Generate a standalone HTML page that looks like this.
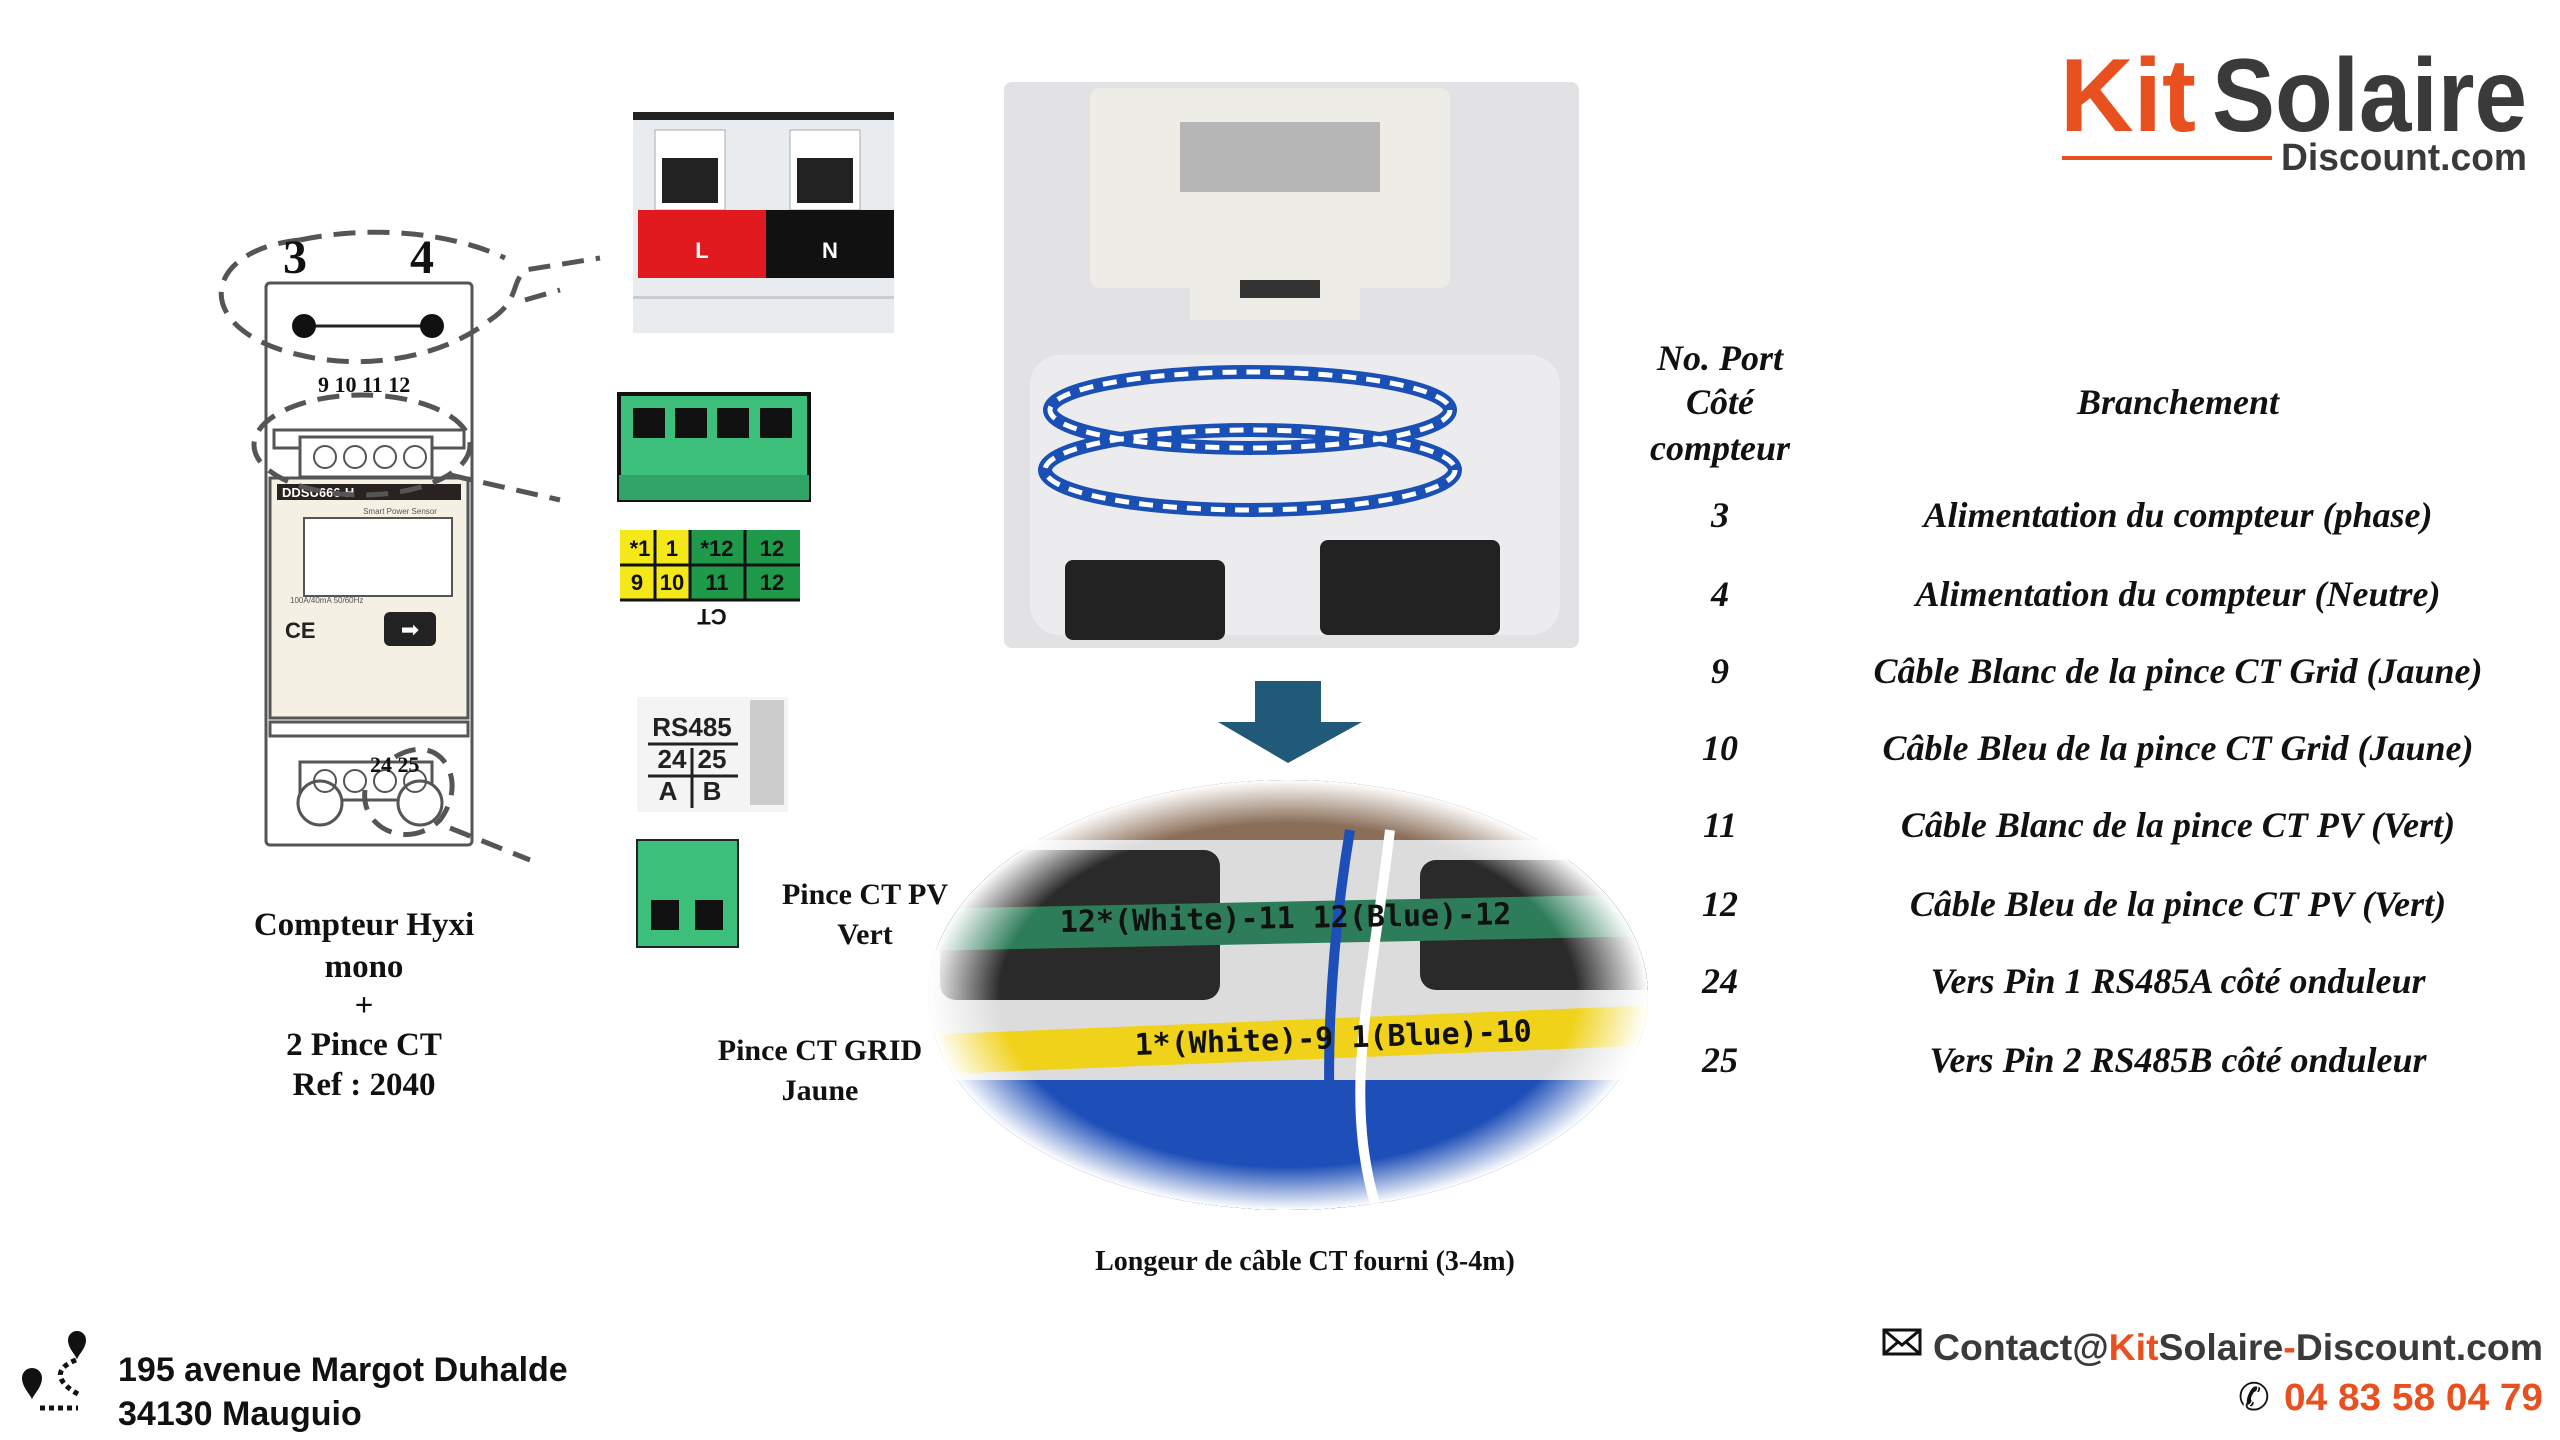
<!DOCTYPE html>
<html><head><meta charset="utf-8"><style>
html,body{margin:0;padding:0;background:#fff}
svg{display:block}
.s{font-family:"Liberation Serif",serif;font-weight:bold}
.si{font-family:"Liberation Serif",serif;font-weight:bold;font-style:italic}
.a{font-family:"Liberation Sans",sans-serif;font-weight:bold}
</style></head><body>
<svg width="2560" height="1440" viewBox="0 0 2560 1440" xmlns="http://www.w3.org/2000/svg">
<defs>
<radialGradient id="eg" cx="50%" cy="50%" r="50%">
<stop offset="0.8" stop-color="#fff" stop-opacity="0"/><stop offset="1" stop-color="#fff" stop-opacity="1"/></radialGradient>
<clipPath id="ec"><ellipse cx="1288" cy="995" rx="360" ry="215"/></clipPath>
</defs>
<rect width="2560" height="1440" fill="#fff"/>

<!-- Logo -->
<text x="2060" y="131" font-family="Liberation Sans" font-weight="bold" font-size="104" fill="#e8501f" textLength="136" lengthAdjust="spacingAndGlyphs">Kit</text>
<text x="2212" y="131" font-family="Liberation Sans" font-weight="bold" font-size="104" fill="#3a3a3a" textLength="315" lengthAdjust="spacingAndGlyphs">Solaire</text>
<rect x="2062" y="156" width="210" height="4" fill="#e8501f"/>
<text x="2281" y="170" class="a" font-size="38" fill="#3a3a3a" textLength="246" lengthAdjust="spacingAndGlyphs">Discount.com</text>

<!-- Table -->
<g class="si" font-size="36" fill="#111" text-anchor="middle">
<text x="1720" y="370">No. Port</text>
<text x="1720" y="414">Côté</text>
<text x="1720" y="460">compteur</text>
<text x="2178" y="414">Branchement</text>
<text x="1720" y="527">3</text><text x="2178" y="527">Alimentation du compteur (phase)</text>
<text x="1720" y="606">4</text><text x="2178" y="606">Alimentation du compteur (Neutre)</text>
<text x="1720" y="683">9</text><text x="2178" y="683">Câble Blanc de la pince CT Grid (Jaune)</text>
<text x="1720" y="760">10</text><text x="2178" y="760">Câble Bleu de la pince CT Grid (Jaune)</text>
<text x="1720" y="837">11</text><text x="2178" y="837">Câble Blanc de la pince CT PV (Vert)</text>
<text x="1720" y="916">12</text><text x="2178" y="916">Câble Bleu de la pince CT PV (Vert)</text>
<text x="1720" y="993">24</text><text x="2178" y="993">Vers Pin 1 RS485A côté onduleur</text>
<text x="1720" y="1072">25</text><text x="2178" y="1072">Vers Pin 2 RS485B côté onduleur</text>
</g>

<!-- Meter drawing -->
<g stroke="#555" stroke-width="3" fill="#fff">
<rect x="266" y="283" width="206" height="562" rx="4"/>
<rect x="274" y="430" width="190" height="18"/>
<rect x="300" y="437" width="132" height="40"/>
<rect x="270" y="478" width="198" height="240" fill="#f4f0e4"/>
<rect x="270" y="722" width="198" height="14"/>
<rect x="300" y="762" width="132" height="38"/>
<circle cx="320" cy="803" r="22"/><circle cx="420" cy="803" r="22"/>
</g>
<g fill="none" stroke="#555" stroke-width="2">
<circle cx="325" cy="457" r="11"/><circle cx="355" cy="457" r="11"/><circle cx="385" cy="457" r="11"/><circle cx="415" cy="457" r="11"/>
<circle cx="325" cy="781" r="11"/><circle cx="355" cy="781" r="11"/><circle cx="385" cy="781" r="11"/><circle cx="415" cy="781" r="11"/>
<rect x="304" y="518" width="148" height="78" fill="#fff"/>
</g>
<rect x="277" y="484" width="184" height="16" fill="#2a2220"/>
<text x="282" y="497" class="a" font-size="13" fill="#fff">DDSU666-H</text>
<text x="400" y="514" font-family="Liberation Sans" font-size="8" fill="#555" text-anchor="middle">Smart Power Sensor</text>
<text x="290" y="603" font-family="Liberation Sans" font-size="8" fill="#555">100A/40mA   50/60Hz</text>
<text x="285" y="638" class="a" font-size="22" fill="#222">CE</text>
<rect x="384" y="612" width="52" height="34" rx="6" fill="#222"/>
<text x="410" y="637" font-size="22" fill="#fff" text-anchor="middle" font-family="DejaVu Sans">➡</text>
<line x1="304" y1="326" x2="432" y2="326" stroke="#222" stroke-width="3"/>
<circle cx="304" cy="326" r="12" fill="#111"/><circle cx="432" cy="326" r="12" fill="#111"/>
<g stroke="#555" stroke-width="5" fill="none" stroke-dasharray="22,12">
<path d="M300,240 C200,250 190,330 300,355 C360,370 440,360 490,320 C520,300 510,285 525,270 L600,258 M525,300 L560,290"/>
<path d="M300,240 C370,225 450,232 505,258"/>
<ellipse cx="362" cy="445" rx="108" ry="50"/>
<path d="M450,475 L560,500"/>
<path d="M395,757 C440,730 470,780 440,820 C410,850 360,830 365,790"/>
<path d="M450,828 L530,860"/>
</g>
<g class="s" font-size="48" fill="#111"><text x="283" y="273">3</text><text x="410" y="273">4</text></g>
<g class="s" font-size="22" fill="#111"><text x="318" y="392">9  10 11 12</text><text x="370" y="772">24 25</text></g>

<g class="s" font-size="33" fill="#111" text-anchor="middle">
<text x="364" y="935">Compteur Hyxi</text><text x="364" y="977">mono</text><text x="364" y="1016">+</text>
<text x="364" y="1055">2 Pince CT</text><text x="364" y="1095">Ref : 2040</text>
</g>

<!-- L/N photo -->
<rect x="633" y="112" width="261" height="221" fill="#e8ecef"/>
<rect x="633" y="112" width="261" height="8" fill="#222"/>
<rect x="655" y="130" width="70" height="80" fill="#fff" stroke="#aaa"/><rect x="662" y="158" width="56" height="45" fill="#222"/>
<rect x="790" y="130" width="70" height="80" fill="#fff" stroke="#aaa"/><rect x="797" y="158" width="56" height="45" fill="#222"/>
<rect x="638" y="210" width="128" height="68" fill="#e01a1f"/>
<rect x="766" y="210" width="128" height="68" fill="#111"/>
<text x="702" y="258" class="a" font-size="22" fill="#fff" text-anchor="middle">L</text>
<text x="830" y="258" class="a" font-size="22" fill="#fff" text-anchor="middle">N</text>
<rect x="633" y="296" width="261" height="3" fill="#c8ccd0"/>

<!-- green 4-terminal -->
<rect x="619" y="394" width="190" height="106" fill="#3cbf7a"/>
<rect x="619" y="394" width="190" height="106" fill="none" stroke="#111" stroke-width="4"/>
<g fill="#111"><rect x="633" y="408" width="32" height="30"/><rect x="675" y="408" width="32" height="30"/><rect x="717" y="408" width="32" height="30"/><rect x="760" y="408" width="32" height="30"/></g>
<rect x="619" y="475" width="190" height="25" fill="#2fa466"/>
<!-- CT label -->
<rect x="620" y="530" width="70" height="70" fill="#f4e81a"/>
<rect x="690" y="530" width="110" height="70" fill="#1e9a4a"/>
<g stroke="#111" stroke-width="3"><line x1="620" y1="565" x2="800" y2="565"/><line x1="655" y1="530" x2="655" y2="600"/><line x1="690" y1="530" x2="690" y2="600"/><line x1="745" y1="530" x2="745" y2="600"/><line x1="620" y1="600" x2="800" y2="600"/></g>
<g class="a" font-size="22" fill="#111" text-anchor="middle"><text x="637" y="590">9</text><text x="672" y="590">10</text><text x="717" y="590">11</text><text x="772" y="590">12</text>
<text x="640" y="556">*1</text><text x="672" y="556">1</text><text x="717" y="556">*12</text><text x="772" y="556">12</text>
<text x="712" y="625" transform="rotate(180 712 617)">CT</text></g>

<!-- RS485 -->
<rect x="637" y="697" width="151" height="115" fill="#f4f4f4"/>
<rect x="750" y="700" width="34" height="105" fill="#ccc"/>
<g class="a" font-size="26" fill="#222" text-anchor="middle"><text x="692" y="736">RS485</text><text x="672" y="768">24</text><text x="712" y="768">25</text><text x="668" y="800">A</text><text x="712" y="800">B</text></g>
<g stroke="#222" stroke-width="3"><line x1="648" y1="744" x2="738" y2="744"/><line x1="648" y1="776" x2="738" y2="776"/><line x1="692" y1="748" x2="692" y2="808"/></g>
<!-- small green -->
<rect x="637" y="840" width="101" height="107" fill="#3cbf7a" stroke="#222" stroke-width="2"/>
<rect x="651" y="900" width="28" height="30" fill="#111"/><rect x="695" y="900" width="28" height="30" fill="#111"/>

<g class="s" font-size="30" fill="#111" text-anchor="middle">
<text x="865" y="904">Pince CT PV</text><text x="865" y="944">Vert</text>
<text x="820" y="1060">Pince CT GRID</text><text x="820" y="1100">Jaune</text>
</g>

<!-- top photo -->
<rect x="1004" y="82" width="575" height="566" fill="#e2e2e4" rx="8"/>
<rect x="1090" y="88" width="360" height="200" fill="#eeece6" rx="10"/>
<rect x="1190" y="200" width="170" height="120" fill="#eeece6"/>
<rect x="1180" y="122" width="200" height="70" fill="#b6b6b6"/>
<rect x="1240" y="280" width="80" height="18" fill="#333"/>
<rect x="1030" y="355" width="530" height="280" rx="30" fill="#ececee"/>
<g stroke="#1a4fb5" stroke-width="14" fill="none">
<ellipse cx="1250" cy="410" rx="200" ry="38"/><ellipse cx="1250" cy="470" rx="205" ry="40"/>
</g>
<g stroke="#fff" stroke-width="5" fill="none" stroke-dasharray="14,10">
<ellipse cx="1250" cy="410" rx="200" ry="38"/><ellipse cx="1250" cy="470" rx="205" ry="40"/>
</g>
<rect x="1065" y="560" width="160" height="80" rx="8" fill="#222"/>
<rect x="1320" y="540" width="180" height="95" rx="8" fill="#222"/>

<!-- arrow -->
<polygon points="1255,681 1321,681 1321,722 1362,722 1288,763 1218,722 1255,722" fill="#215a78"/>

<!-- ellipse photo -->
<g clip-path="url(#ec)">
<rect x="920" y="770" width="740" height="440" fill="#dcdcdc"/>
<rect x="920" y="770" width="740" height="70" fill="#8a6e58"/>
<rect x="920" y="1080" width="740" height="140" fill="#1e4fb8"/>
<rect x="940" y="850" width="280" height="150" rx="16" fill="#2a2a2a"/>
<rect x="1420" y="860" width="260" height="130" rx="16" fill="#2a2a2a"/>
<path d="M920,930 L1660,915" stroke="#2e7d5a" stroke-width="42"/>
<path d="M920,1055 L1660,1025" stroke="#f0d21a" stroke-width="40"/>
<path d="M1350,830 C1330,950 1320,1100 1340,1220" stroke="#1e4fb8" stroke-width="10" fill="none"/>
<path d="M1390,830 C1370,1000 1340,1100 1380,1220" stroke="#fff" stroke-width="10" fill="none"/>
<text x="1060" y="932" font-family="DejaVu Sans Mono" font-weight="bold" font-size="30" fill="#111" transform="rotate(-1 1060 932)">12*(White)-11 12(Blue)-12</text>
<text x="1135" y="1055" font-family="DejaVu Sans Mono" font-weight="bold" font-size="30" fill="#111" transform="rotate(-2 1135 1055)">1*(White)-9 1(Blue)-10</text>
<ellipse cx="1288" cy="995" rx="360" ry="215" fill="url(#eg)"/>
</g>

<text x="1305" y="1270" class="s" font-size="28" fill="#111" text-anchor="middle">Longeur de câble CT fourni (3-4m)</text>

<!-- footer -->
<g fill="#111">
<path d="M22,1378 a10,10 0 1 1 20,0 c0,10 -10,18 -10,22 c0,-4 -10,-12 -10,-22z"/>
<path d="M68,1340 a9,9 0 1 1 18,0 c0,9 -9,16 -9,20 c0,-4 -9,-11 -9,-20z"/>
</g>
<path d="M40,1408 L78,1408 M76,1360 C50,1370 60,1385 80,1395" stroke="#111" stroke-width="5" stroke-dasharray="5,4" fill="none"/>
<text x="118" y="1381" class="a" font-size="34" fill="#111">195 avenue Margot Duhalde</text>
<text x="118" y="1425" class="a" font-size="34" fill="#111">34130 Mauguio</text>

<rect x="1884" y="1330" width="36" height="24" fill="none" stroke="#111" stroke-width="3"/>
<path d="M1884,1330 L1902,1345 L1920,1330 M1884,1354 L1898,1342 M1920,1354 L1906,1342" stroke="#111" stroke-width="3" fill="none"/>
<text x="1933" y="1360" class="a" font-size="37" fill="#3a3a3a" textLength="610" lengthAdjust="spacingAndGlyphs">Contact@<tspan fill="#e8501f">Kit</tspan>Solaire<tspan fill="#e8501f">-</tspan>Discount.com</text>
<text x="2238" y="1410" font-family="DejaVu Sans" font-size="38" fill="#111">✆</text>
<text x="2284" y="1410" class="a" font-size="38" fill="#e8501f" textLength="259" lengthAdjust="spacingAndGlyphs">04 83 58 04 79</text>
</svg>
</body></html>
